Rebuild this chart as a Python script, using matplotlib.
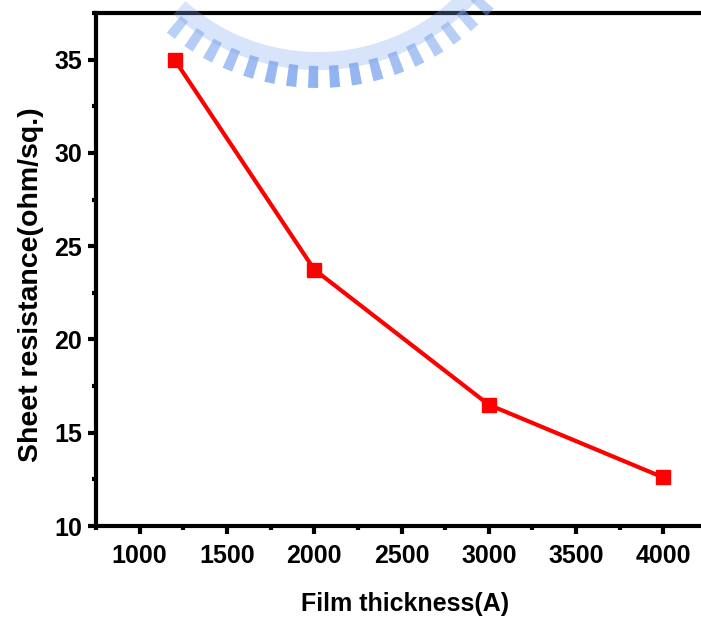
import numpy as np
import matplotlib
matplotlib.use("Agg")
import matplotlib.pyplot as plt
from matplotlib.patches import Polygon
from matplotlib.ticker import MultipleLocator

thickness = [1200, 2000, 3000, 4000]
resistance = [35.0, 23.75, 16.5, 12.6]

plt.rcParams['font.family'] = ['Liberation Sans', 'DejaVu Sans']
plt.rcParams['font.weight'] = 'bold'

fig = plt.figure(figsize=(7.01, 6.23), dpi=100)
W, H = 701.0, 623.0


def to_fig(px, py):
    return (px / W, 1 - py / H)


# faint gear-shaped logo arc behind the plot (pixel coords)
cx, cy, r = 318.0, -146.0, 234.0
logo = '#7ea6ee'
for ang in np.arange(-129, -42, 5.4):
    a0, a1 = np.radians(ang - 1.25), np.radians(ang + 1.25)
    pts = [to_fig(cx + rr * np.cos(aa), cy - rr * np.sin(aa))
           for rr, aa in [(r - 22, a0), (r, a0), (r, a1), (r - 22, a1)]]
    fade = 0.45 + 0.4 * np.exp(-((ang + 90) / 30.0) ** 2)
    fig.patches.append(Polygon(pts, closed=True, transform=fig.transFigure,
                               facecolor=logo, edgecolor='none', alpha=fade, zorder=0))
arc = np.radians(np.linspace(-132, -38, 80))
outer = [to_fig(cx + (r - 18) * np.cos(a), cy - (r - 18) * np.sin(a)) for a in arc]
inner = [to_fig(cx + (r - 36) * np.cos(a), cy - (r - 36) * np.sin(a)) for a in arc[::-1]]
fig.patches.append(Polygon(outer + inner, closed=True, transform=fig.transFigure,
                           facecolor=logo, edgecolor='none', alpha=0.3, zorder=0))

ax = fig.add_axes([96 / W, 97 / H, 611 / W, 513 / H])
ax.patch.set_alpha(0)

ax.plot(thickness, resistance, color='#ff0000', lw=3, marker='s', markersize=9.5,
        markerfacecolor='#ff0000', markeredgecolor='#ff0000')

ax.set_xlim(750, 4250)
ax.set_ylim(10, 37.5)
ax.xaxis.set_major_locator(MultipleLocator(500))
ax.xaxis.set_minor_locator(MultipleLocator(250))
ax.yaxis.set_major_locator(MultipleLocator(5))
ax.yaxis.set_minor_locator(MultipleLocator(2.5))

for s in ax.spines.values():
    s.set_linewidth(3)
ax.tick_params(which='major', direction='out', length=6, width=3, labelsize=18)
ax.tick_params(which='minor', direction='out', length=3, width=3)
ax.tick_params(axis='x', which='major', pad=7)
ax.tick_params(axis='y', which='major', pad=4)
ax.tick_params(top=False, right=False, which='both')

ax.set_xlabel('Film thickness(A)', fontsize=18, fontweight='bold')
ax.set_ylabel('Sheet resistance(ohm/sq.)', fontsize=20.5, fontweight='bold')
ax.xaxis.set_label_coords(0.506, -0.128)
ax.yaxis.set_label_coords(-0.085, 0.47)

fig.savefig('out.png', dpi=100)
